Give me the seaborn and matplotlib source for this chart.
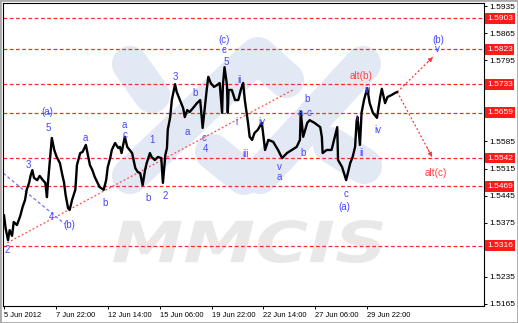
import numpy as np
import pandas as pd
import matplotlib
matplotlib.use("Agg")
import matplotlib.pyplot as plt
import matplotlib.transforms as mtransforms
from matplotlib.patches import Rectangle, PathPatch
from matplotlib.textpath import TextPath
from matplotlib.font_manager import FontProperties
import seaborn as sns

# ---------------- data ----------------
bars = [0, 2, 5, 7, 10, 12, 16, 20, 23, 26, 28, 31, 33, 35, 37, 41, 44, 48, 51, 53,
        54, 57, 59, 62, 65, 69, 72, 74, 76, 79, 81, 84, 88, 90, 94, 97, 101, 104, 106, 109,
        112, 115, 118, 123, 126, 128, 131, 133, 137, 141, 143, 145, 149, 152, 155, 158, 162, 165, 168, 171,
        174, 176, 180, 182, 186, 190, 194, 196, 199, 201, 202, 205, 207, 211, 213, 217, 221, 223, 226, 229,
        233, 238, 242, 245, 248, 250, 252, 255, 259, 263, 266, 269, 270, 272, 275, 276, 277, 281, 285, 289,
        292, 295, 297, 301, 303, 306, 309, 313, 318, 322, 326, 332, 338, 343, 349, 355, 361, 365, 366, 369,
        374, 377, 383, 390, 392, 393, 398, 404, 411, 412, 417, 422, 427, 430, 433, 435, 436, 439, 441, 444,
        448, 451, 455, 460, 464, 466, 470, 473, 478, 482, 485]
closes = [1.5395, 1.5361, 1.5330, 1.5356, 1.5341, 1.5377, 1.5369, 1.5392, 1.5416, 1.5434,
          1.5460, 1.5478, 1.5498, 1.5511, 1.5491, 1.5485, 1.5496, 1.5485, 1.5478, 1.5441,
          1.5472, 1.5545, 1.5594, 1.5563, 1.5545, 1.5529, 1.5498, 1.5480, 1.5447, 1.5413,
          1.5408, 1.5434, 1.5460, 1.5524, 1.5555, 1.5558, 1.5576, 1.5545, 1.5524, 1.5511,
          1.5493, 1.5480, 1.5467, 1.5460, 1.5485, 1.5519, 1.5542, 1.5563, 1.5581, 1.5568,
          1.5571, 1.5555, 1.5597, 1.5571, 1.5563, 1.5555, 1.5516, 1.5506, 1.5503, 1.5472,
          1.5511, 1.5529, 1.5555, 1.5545, 1.5537, 1.5545, 1.5542, 1.5478, 1.5550, 1.5568,
          1.5615, 1.5648, 1.5692, 1.5733, 1.5713, 1.5692, 1.5671, 1.5648, 1.5666, 1.5661,
          1.5671, 1.5684, 1.5692, 1.5620, 1.5679, 1.5718, 1.5752, 1.5736, 1.5726, 1.5731,
          1.5736, 1.5659, 1.5731, 1.5777, 1.5731, 1.5659, 1.5718, 1.5718, 1.5692, 1.5692,
          1.5718, 1.5736, 1.5692, 1.5633, 1.5597, 1.5589, 1.5607, 1.5615, 1.5633, 1.5563,
          1.5589, 1.5584, 1.5563, 1.5542, 1.5555, 1.5563, 1.5571, 1.5589, 1.5661, 1.5597,
          1.5633, 1.5640, 1.5633, 1.5622, 1.5597, 1.5555, 1.5563, 1.5563, 1.5622, 1.5537,
          1.5519, 1.5485, 1.5529, 1.5545, 1.5571, 1.5640, 1.5648, 1.5576, 1.5659, 1.5692,
          1.5723, 1.5684, 1.5659, 1.5646, 1.5700, 1.5721, 1.5684, 1.5700, 1.5705, 1.5710,
          1.5713]

levels = [1.5903, 1.5823, 1.5733, 1.5659, 1.5542, 1.5469, 1.5316]
level_labels = ["1.5903", "1.5823", "1.5733", "1.5659", "1.5542", "1.5469", "1.5316"]

ytick_values = [1.5935, 1.5865, 1.5795, 1.5725, 1.5655, 1.5585, 1.5515,
                1.5445, 1.5375, 1.5305, 1.5235, 1.5165]
# labels hidden behind the red level boxes in the reference are left blank
ytick_labels = ["1.5935", "1.5865", "1.5795", "", "", "1.5585", "1.5515",
                "1.5445", "1.5375", "", "1.5235", "1.5165"]
xtick_bars = [0, 64, 128, 192, 256, 320, 384, 448]
xtick_labels = ["5 Jun 2012", "7 Jun 22:00", "12 Jun 14:00", "15 Jun 06:00",
                "19 Jun 22:00", "22 Jun 14:00", "27 Jun 06:00", "29 Jun 22:00"]

# wave labels (blue)
wave_text = ["(a)", "5", "3", "4", "(b)", "2", "a", "b", "a", "c",
             "1", "b", "2", "3", "a", "b", "c", "4", "(c)", "c",
             "5", "ii", "i", "iii", "iv", "v", "a", "b", "b", "a",
             "c", "c", "(a)", "i", "ii", "iii", "iv", "(b)", "v"]
wave_bar = [54, 55, 30, 58, 81, 4, 100, 125, 149, 149,
            182, 178, 199, 211, 226, 236, 247, 248, 272, 272,
            274, 291, 287, 298, 318, 340, 340, 369, 374, 365,
            376, 422, 420, 435, 441, 448, 461, 536, 535]
wave_price = [1.5661, 1.5620, 1.5524, 1.5390, 1.5369, 1.5305, 1.5594, 1.5426, 1.5628, 1.5602,
              1.5589, 1.5439, 1.5444, 1.5752, 1.5609, 1.5710, 1.5594, 1.5566, 1.5847, 1.5821,
              1.5790, 1.5744, 1.5635, 1.5553, 1.5635, 1.5520, 1.5492, 1.5555, 1.5695, 1.5659,
              1.5659, 1.5449, 1.5416, 1.5645, 1.5555, 1.5718, 1.5615, 1.5847, 1.5824]

alt_text = ["alt(b)", "alt(c)"]
alt_bar = [441, 533]
alt_price = [1.5754, 1.5503]

trend_bar = [4, 356]
trend_price = [1.5323, 1.5718]
blue_line_bar = [-1, 75]
blue_line_price = [1.5503, 1.5372]
arrow_start = (485, 1.5713)
arrow_ends_bar = [529, 528]
arrow_ends_price = [1.5803, 1.5545]

# ---------------- styling ----------------
sns.set_style("white")
plt.rcParams["font.family"] = ["Liberation Sans", "DejaVu Sans"]

W, H = 518, 323
fig = plt.figure(figsize=(W / 100, H / 100), dpi=100)
fig.patch.set_facecolor("white")
ax = fig.add_axes([3 / W, 17 / H, 481 / W, 303 / H])
ax.set_facecolor("white")

ax.set_xlim(-1.2, 592)
ax.set_ylim(1.51598, 1.59428)


def ax_frac(px, py):
    return ((px - 3) / 481.0, (306 - py) / 303.0)


# watermark: rounded diagonal bands
bands = [((130, 64), (152, 95)), ((130, 176), (253, 59)), ((258, 55), (286, 80)),
         ((213, 152), (244, 177)), ((260, 176), (363, 64)), ((331, 145), (364, 166))]
for (p0, p1) in bands:
    a0 = ax_frac(*p0)
    a1 = ax_frac(*p1)
    ax.plot([a0[0], a1[0]], [a0[1], a1[1]], transform=ax.transAxes, color="#e3e9f4",
            lw=26, solid_capstyle="round", zorder=0.5)

# watermark text (scaled path to fit the logo box)
fp = FontProperties(family="DejaVu Sans", weight="bold", style="italic")
tp = TextPath((0, 0), "MMCIS", size=100, prop=fp)
bb = tp.get_extents()
x0, x1, ytop, ybot = 113, 383, 220, 263
sx = (x1 - x0) / bb.width
sy = (ybot - ytop) / bb.height
tr = mtransforms.Affine2D().translate(-bb.x0, -bb.y0).scale(sx, sy).translate(x0, H - ybot)
patch = PathPatch(tr.transform_path(tp), facecolor="#e8e8e8", edgecolor="none",
                  transform=mtransforms.IdentityTransform(), zorder=0.6)
patch.set_clip_path(ax.patch)
ax.add_artist(patch)

# horizontal levels
for lv in levels:
    ax.axhline(lv, color="#ff2a2a", lw=0.9, dashes=(3, 2), zorder=1)

# trend lines
ax.plot(trend_bar, trend_price, color="#ff4a4a", lw=0.9, dashes=(1.5, 1.8), zorder=1.2)
ax.plot(blue_line_bar, blue_line_price, color="#7070ff", lw=0.9, dashes=(2.5, 2), zorder=1.2)

# price series
df = pd.DataFrame({"bar": bars, "close": closes})
sns.lineplot(data=df, x="bar", y="close", ax=ax, color="black", lw=1.7,
             sort=False, estimator=None, zorder=3)

# arrows
for eb, ep in zip(arrow_ends_bar, arrow_ends_price):
    ax.plot([arrow_start[0], eb], [arrow_start[1], ep], color="#ff3030", lw=0.9,
            dashes=(1.5, 1.8), zorder=2)
    sb = arrow_start[0] + 0.85 * (eb - arrow_start[0])
    sp = arrow_start[1] + 0.85 * (ep - arrow_start[1])
    ax.annotate("", xy=(eb, ep), xytext=(sb, sp),
                arrowprops=dict(arrowstyle="-|>", color="#ff3030", lw=0.5,
                                mutation_scale=7, shrinkA=0, shrinkB=0), zorder=2)

# wave labels
for t, b, p in zip(wave_text, wave_bar, wave_price):
    ax.text(b, p, t, color="#4646ff", fontsize=7, ha="center", va="center", zorder=4)
for t, b, p in zip(alt_text, alt_bar, alt_price):
    ax.text(b, p, t, color="#ff4040", fontsize=7.2, ha="center", va="center", zorder=4)

# axes
ax.yaxis.tick_right()
ax.set_yticks(ytick_values)
ax.set_yticklabels(ytick_labels)
ax.set_xticks(xtick_bars)
ax.set_xticklabels(xtick_labels, ha="left")
ax.tick_params(axis="y", which="both", right=True, left=False, length=2.5, width=0.7,
               pad=1.5, labelsize=6, colors="black", direction="out")
ax.tick_params(axis="x", which="both", bottom=True, length=2.5, width=0.7,
               pad=1.5, labelsize=5.4, colors="black", direction="out")
ax.set_xlabel("")
ax.set_ylabel("")
for s in ax.spines.values():
    s.set_visible(True)
    s.set_color("black")
    s.set_linewidth(0.8)

# red level boxes on the right
trans = mtransforms.blended_transform_factory(ax.transAxes, ax.transData)
for lv, lab in zip(levels, level_labels):
    ax.text(1.006, lv, lab, transform=trans, ha="left", va="center", color="white",
            fontsize=6, clip_on=False, zorder=10,
            bbox=dict(facecolor="#ff1a1a", edgecolor="none", pad=1.3))

# outer border
fig.patches.append(Rectangle((0, 0), 1, 1, transform=fig.transFigure, fill=False,
                             edgecolor="#a9a9a9", lw=2, zorder=20))

fig.savefig("out.png", dpi=100, facecolor="white")
